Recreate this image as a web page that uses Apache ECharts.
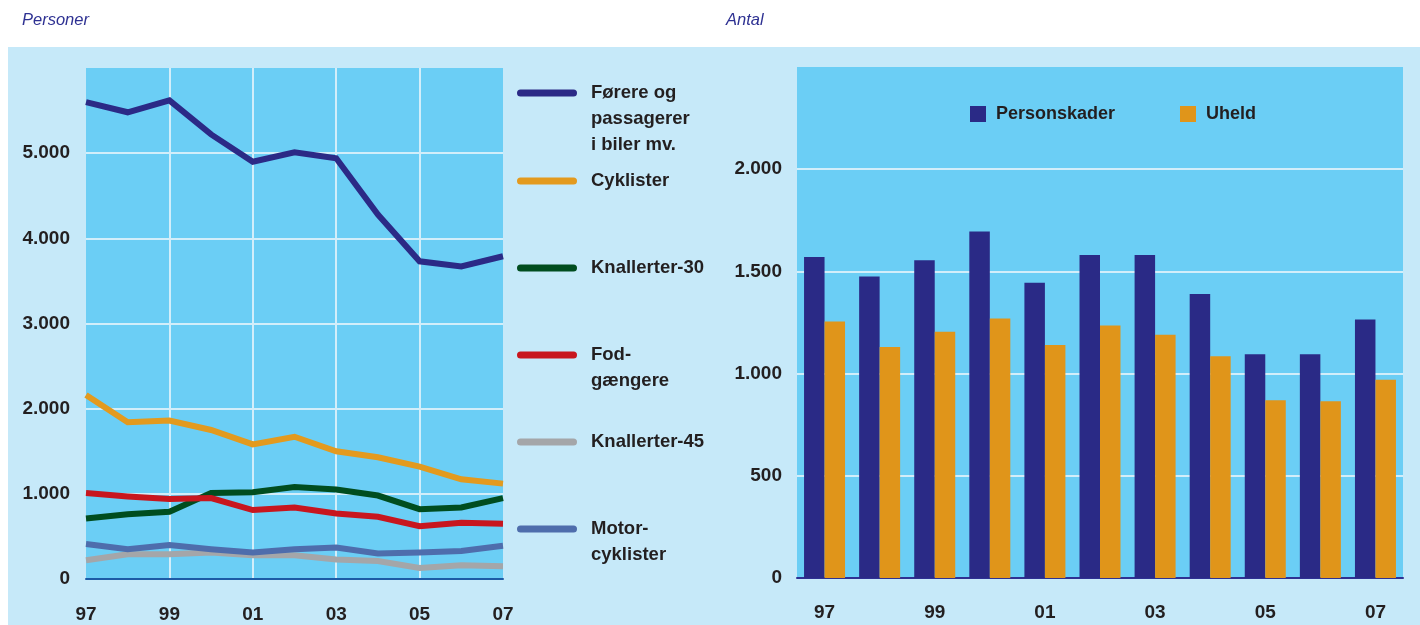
<!DOCTYPE html>
<html>
<head>
<meta charset="utf-8">
<script src="https://cdn.jsdelivr.net/npm/echarts@6/dist/echarts.min.js"></script>
<style>
  html, body { margin: 0; padding: 0; background: #ffffff; }
  #chart { width: 1420px; height: 625px; }
</style>
</head>
<body>
<div id="chart"></div>
<script>
// Years on both category axes
const years = ['97', '98', '99', '00', '01', '02', '03', '04', '05', '06', '07'];

// Left panel: persons by road-user group
const forere = [5600, 5480, 5620, 5220, 4900, 5010, 4940, 4280, 3730, 3670, 3790];
const cyklister = [2160, 1840, 1860, 1750, 1580, 1670, 1500, 1430, 1320, 1170, 1120];
const knallerter30 = [710, 760, 790, 1010, 1020, 1080, 1050, 980, 820, 840, 950];
const fodgaengere = [1010, 970, 940, 950, 810, 840, 770, 730, 620, 660, 650];
const knallerter45 = [220, 290, 290, 310, 280, 280, 230, 210, 130, 160, 150];
const motorcyklister = [410, 350, 400, 350, 310, 350, 370, 300, 310, 330, 390];

// Right panel: counts
const personskader = [1570, 1475, 1555, 1695, 1445, 1580, 1580, 1390, 1095, 1095, 1265];
const uheld = [1255, 1130, 1205, 1270, 1140, 1235, 1190, 1085, 870, 865, 970];

// Line series names as shown in the legend (blank lead lines keep the first text line level with the swatch)
const lineNames = ['Førere og passagerer i biler mv.', 'Cyklister', 'Knallerter-30', 'Fodgængere', 'Knallerter-45', 'Motorcyklister'];
const legendLabels = {
  'Førere og passagerer i biler mv.': '\n\nFørere og\npassagerer\ni biler mv.',
  'Cyklister': 'Cyklister',
  'Knallerter-30': 'Knallerter-30',
  'Fodgængere': '\nFod-\ngængere',
  'Knallerter-45': 'Knallerter-45',
  'Motorcyklister': '\nMotor-\ncyklister'
};
const lineValues = [forere, cyklister, knallerter30, fodgaengere, knallerter45, motorcyklister];
const lineColors = ['#2b2a86', '#e39a1e', '#004d1f', '#c8161e', '#a4a6a9', '#4e6dac'];
const legendTops = [25, 165, 252, 313, 426, 487];

const NUM_FONT = "'Liberation Sans', Arial, sans-serif";
const TXT_FONT = "'Liberation Sans', Arial, sans-serif";
const INK = '#231f20';
const NUM_SIZE = 19;

function thousands(v) {
  return String(v).replace(/\B(?=(\d{3})+(?!\d))/g, '.');
}

const chart = echarts.init(document.getElementById('chart'), null, { renderer: 'canvas' });

const capsule = 'path://M3.5,0 L56.5,0 A3.5,3.5 0 0 1 56.5,7 L3.5,7 A3.5,3.5 0 0 1 3.5,0 Z';

const lineLegends = lineNames.map((name, i) => ({
  data: [name],
  left: 517,
  top: legendTops[i],
  padding: 0,
  orient: 'vertical',
  icon: capsule,
  itemWidth: 60,
  itemHeight: 7,
  itemStyle: { borderWidth: 0 },
  selectedMode: false,
  formatter: n => legendLabels[n],
  textStyle: {
    fontFamily: TXT_FONT,
    fontWeight: 'bold',
    fontSize: 18.5,
    lineHeight: 26,
    color: INK,
    padding: [6, 0, 0, 9]
  }
}));

const barLegendCommon = {
  top: 104,
  padding: 0,
  icon: 'rect',
  itemWidth: 16,
  itemHeight: 16,
  selectedMode: false,
  textStyle: {
    fontFamily: NUM_FONT,
    fontWeight: 'bold',
    fontSize: 18,
    lineHeight: 20,
    color: INK,
    padding: [0, 0, 0, 5]
  }
};

const gridLineColor = '#d2eefa';

const option = {
  animation: false,
  backgroundColor: '#ffffff',
  graphic: {
    elements: [{
      type: 'rect',
      z: -100,
      silent: true,
      shape: { x: 8, y: 47, width: 1412, height: 578 },
      style: { fill: '#c6e9f9' }
    }]
  },
  title: [
    {
      text: 'Personer', left: 22, top: 12, padding: 0,
      textStyle: { fontFamily: TXT_FONT, fontStyle: 'italic', fontWeight: 'normal', fontSize: 16.5, color: '#2e3192' }
    },
    {
      text: 'Antal', left: 726, top: 12, padding: 0,
      textStyle: { fontFamily: TXT_FONT, fontStyle: 'italic', fontWeight: 'normal', fontSize: 16.5, color: '#2e3192' }
    }
  ],
  legend: lineLegends.concat([
    Object.assign({}, barLegendCommon, { left: 970, data: ['Personskader'] }),
    Object.assign({}, barLegendCommon, { left: 1180, data: ['Uheld'] })
  ]),
  grid: [
    { left: 86, right: 917, top: 68, bottom: 46, show: true, backgroundColor: '#6bcef5', borderWidth: 0 },
    { left: 797, right: 17, top: 67, bottom: 47, show: true, backgroundColor: '#6bcef5', borderWidth: 0 }
  ],
  xAxis: [
    {
      gridIndex: 0,
      type: 'category',
      data: years,
      boundaryGap: false,
      axisLine: { show: true, lineStyle: { color: '#1c5ba6', width: 2 } },
      axisTick: { show: false },
      axisLabel: {
        interval: idx => idx % 2 === 0,
        margin: 26,
        fontFamily: NUM_FONT, fontWeight: 'bold', fontSize: NUM_SIZE, color: INK
      },
      splitLine: {
        show: true,
        interval: idx => idx % 2 === 0 && idx > 0 && idx < years.length - 1,
        lineStyle: { color: gridLineColor, width: 2 }
      }
    },
    {
      gridIndex: 1,
      type: 'category',
      data: years,
      boundaryGap: true,
      axisLine: { show: true, lineStyle: { color: '#2e3192', width: 2 } },
      axisTick: { show: false },
      axisLabel: {
        interval: idx => idx % 2 === 0,
        margin: 25,
        fontFamily: NUM_FONT, fontWeight: 'bold', fontSize: NUM_SIZE, color: INK
      },
      splitLine: { show: false }
    }
  ],
  yAxis: [
    {
      gridIndex: 0,
      type: 'value',
      min: 0, max: 6000, interval: 1000,
      axisLine: { show: false },
      axisTick: { show: false },
      axisLabel: {
        showMaxLabel: false,
        margin: 16,
        formatter: v => thousands(v),
        fontFamily: NUM_FONT, fontWeight: 'bold', fontSize: NUM_SIZE, color: INK
      },
      splitLine: { show: true, showMinLine: false, showMaxLine: false, lineStyle: { color: gridLineColor, width: 2 } }
    },
    {
      gridIndex: 1,
      type: 'value',
      min: 0, max: 2500, interval: 500,
      axisLine: { show: false },
      axisTick: { show: false },
      axisLabel: {
        showMaxLabel: false,
        margin: 15,
        formatter: v => thousands(v),
        fontFamily: NUM_FONT, fontWeight: 'bold', fontSize: NUM_SIZE, color: INK
      },
      splitLine: { show: true, showMinLine: false, showMaxLine: false, lineStyle: { color: gridLineColor, width: 2 } }
    }
  ],
  series: lineNames.map((name, i) => ({
    name: name,
    type: 'line',
    xAxisIndex: 0,
    yAxisIndex: 0,
    data: lineValues[i],
    symbol: 'none',
    color: lineColors[i],
    lineStyle: { width: 6, color: lineColors[i], join: 'miter', cap: 'butt' },
    z: 2
  })).concat([
    {
      name: 'Personskader',
      type: 'bar',
      xAxisIndex: 1,
      yAxisIndex: 1,
      data: personskader,
      color: '#2a2a86',
      barWidth: 20.5,
      barGap: '0%',
      itemStyle: { color: '#2a2a86' }
    },
    {
      name: 'Uheld',
      type: 'bar',
      xAxisIndex: 1,
      yAxisIndex: 1,
      data: uheld,
      color: '#e0951a',
      barWidth: 20.5,
      barGap: '0%',
      itemStyle: { color: '#e0951a' }
    }
  ])
};

chart.setOption(option);
</script>
</body>
</html>
